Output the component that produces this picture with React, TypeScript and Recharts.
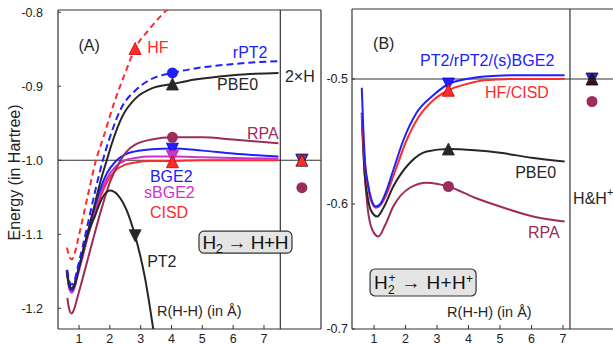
import React from 'react';
import { ComposedChart, Line, Scatter, XAxis, YAxis, ReferenceLine, ReferenceDot } from 'recharts';

const FONT = '"Liberation Sans", Arial, Helvetica, sans-serif';
const RED = '#ff2a2a';
const BLUE = '#2020ff';
const BLACK = '#262626';
const MAROON = '#9b2c5b';
const MAGENTA = '#cc33cc';
const AXIS = '#333333';

// ---------- Panel A : H2 -> H+H  (R in Å, E in Hartree) ----------
const hfA = [[0.61,-1.118],[0.68,-1.13],[0.77,-1.134],[0.85,-1.127],[0.95,-1.11],[1.04,-1.094],[1.3,-1.045],[1.55,-1.0],[1.79,-0.969],[2.15,-0.921],[2.47,-0.885],[2.82,-0.849],[3.26,-0.824],[3.85,-0.797],[4.5,-0.777],[5.5,-0.755],[6.5,-0.742],[7.47,-0.733]];
const rpt2A = [[0.62,-1.148],[0.68,-1.163],[0.76,-1.168],[0.85,-1.163],[0.95,-1.146],[1.1,-1.12],[1.3,-1.083],[1.5,-1.046],[1.74,-1.005],[2.0,-0.969],[2.39,-0.928],[2.82,-0.906],[3.36,-0.89],[4.03,-0.882],[4.76,-0.876],[6.0,-0.87],[7.47,-0.866]];
const pbe0A = [[0.6,-1.148],[0.68,-1.167],[0.76,-1.173],[0.85,-1.168],[0.95,-1.153],[1.1,-1.128],[1.3,-1.095],[1.52,-1.058],[1.7,-1.028],[1.9,-1.0],[2.06,-0.978],[2.39,-0.942],[2.82,-0.917],[3.36,-0.903],[4.03,-0.897],[4.76,-0.891],[6.0,-0.885],[7.47,-0.882]];
const rpaA = [[0.62,-1.186],[0.68,-1.201],[0.76,-1.207],[0.85,-1.2],[0.95,-1.185],[1.09,-1.164],[1.41,-1.114],[1.74,-1.064],[2.0,-1.03],[2.28,-1.005],[2.55,-0.988],[2.82,-0.979],[3.36,-0.972],[4.03,-0.969],[5.0,-0.969],[6.0,-0.972],[7.47,-0.977]];
const bge2A = [[0.62,-1.152],[0.68,-1.17],[0.76,-1.176],[0.85,-1.17],[0.95,-1.153],[1.1,-1.128],[1.3,-1.095],[1.6,-1.05],[1.9,-1.018],[2.2,-1.001],[2.5,-0.992],[2.82,-0.988],[3.36,-0.985],[4.03,-0.984],[5.0,-0.987],[6.0,-0.991],[7.47,-0.995]];
const sbge2A = [[0.62,-1.156],[0.68,-1.173],[0.76,-1.179],[0.85,-1.173],[0.95,-1.157],[1.1,-1.133],[1.3,-1.1],[1.6,-1.056],[1.9,-1.025],[2.2,-1.008],[2.5,-1.0],[2.82,-0.997],[3.36,-0.995],[4.03,-0.995],[5.0,-0.996],[6.0,-0.997],[7.47,-0.998]];
const cisdA = [[0.62,-1.153],[0.68,-1.171],[0.76,-1.175],[0.85,-1.17],[0.95,-1.155],[1.1,-1.132],[1.3,-1.101],[1.6,-1.06],[1.9,-1.03],[2.2,-1.013],[2.5,-1.006],[2.82,-1.003],[3.36,-1.001],[4.03,-1.001],[5.0,-1.0],[7.47,-1.0]];
const pt2A = [[0.6,-1.15],[0.68,-1.168],[0.76,-1.173],[0.85,-1.168],[0.95,-1.153],[1.1,-1.128],[1.3,-1.098],[1.52,-1.075],[1.74,-1.052],[2.0,-1.041],[2.28,-1.048],[2.55,-1.068],[2.82,-1.102],[3.14,-1.159],[3.42,-1.231],[3.6,-1.28]];

// markers A
const hfMarkA = [[2.82,-0.849]];
const rpt2MarkA = [[4.03,-0.882]];
const pbe0MarkA = [[4.03,-0.897]];
const rpaMarkA = [[4.03,-0.969]];
const bge2MarkA = [[4.03,-0.985]];
const sbge2MarkA = [[4.03,-0.995]];
const cisdMarkA = [[4.03,-1.002]];
const pt2MarkA = [[2.82,-1.102]];
const limitTriA = [[8.23,-1.0]];
const limitRpaA = [[8.23,-1.037]];

// ---------- Panel B : H2+ -> H+H+ ----------
const pt2B = [[0.61,-0.507],[0.66,-0.54],[0.71,-0.565],[0.8,-0.583],[0.9,-0.595],[1.06,-0.602],[1.2,-0.6],[1.4,-0.589],[1.61,-0.573],[1.93,-0.549],[2.35,-0.527],[2.88,-0.513],[3.36,-0.504],[3.94,-0.5],[4.5,-0.498],[5.5,-0.497],[7.05,-0.497]];
const hfB = [[0.61,-0.527],[0.66,-0.55],[0.71,-0.568],[0.8,-0.585],[0.9,-0.597],[1.06,-0.603],[1.2,-0.601],[1.4,-0.592],[1.68,-0.573],[2.0,-0.551],[2.4,-0.531],[2.88,-0.517],[3.36,-0.509],[3.94,-0.504],[4.5,-0.501],[5.5,-0.5],[7.05,-0.5]];
const pbe0B = [[0.61,-0.53],[0.7,-0.575],[0.8,-0.595],[0.9,-0.605],[1.1,-0.61],[1.3,-0.603],[1.61,-0.586],[2.14,-0.567],[2.67,-0.558],[3.36,-0.556],[4.2,-0.557],[5.0,-0.559],[6.0,-0.563],[7.05,-0.566]];
const rpaB = [[0.61,-0.527],[0.7,-0.575],[0.8,-0.604],[0.95,-0.621],[1.14,-0.626],[1.35,-0.617],[1.61,-0.602],[2.14,-0.587],[2.67,-0.583],[3.36,-0.586],[4.2,-0.595],[5.0,-0.602],[6.05,-0.61],[7.05,-0.614]];

const pt2MarkB = [[3.36,-0.504]];
const hfMarkB = [[3.36,-0.509]];
const pbe0MarkB = [[3.36,-0.556]];
const rpaMarkB = [[3.36,-0.586]];
const limitTriB = [[7.92,-0.5]];
const limitRpaB = [[7.92,-0.518]];

const xTicks = [1, 2, 3, 4, 5, 6, 7];
const yTicksA = [-1.2, -1.1, -1.0, -0.9, -0.8];
const yTicksB = [-0.7, -0.6, -0.5];

const pts = (a: number[][]) => a.map(([r, e]) => ({ r, e }));

// annotation anchors (data coordinates)
const textA = [
  { t: '(A)', r: 0.98, e: -0.845, c: BLACK },
  { t: 'HF', r: 3.21, e: -0.847, c: RED },
  { t: 'rPT2', r: 5.99, e: -0.854, c: BLUE },
  { t: 'PBE0', r: 5.48, e: -0.8976, c: BLACK },
  { t: 'RPA', r: 6.45, e: -0.964, c: MAROON },
  { t: 'BGE2', r: 3.3, e: -1.0224, c: BLUE },
  { t: 'sBGE2', r: 3.11, e: -1.0441, c: MAGENTA },
  { t: 'CISD', r: 3.3, e: -1.0712, c: RED },
  { t: 'PT2', r: 3.21, e: -1.1364, c: BLACK },
  { t: '2×H', r: 7.68, e: -0.8867, c: BLACK },
];
const textB = [
  { t: '(B)', r: 0.97, e: -0.4712, c: BLACK },
  { t: 'PT2/rPT2/(s)BGE2', r: 2.46, e: -0.4848, c: BLUE },
  { t: 'HF/CISD', r: 4.52, e: -0.5104, c: RED },
  { t: 'PBE0', r: 5.48, e: -0.5744, c: BLACK },
  { t: 'RPA', r: 5.89, e: -0.6224, c: MAROON },
];

// triangle markers centred on their bounding box
const TW = 12, TH = 12;
const triUp = (fill: string, stroke: string) => (p: any) => {
  const { cx, cy } = p;
  return <polygon points={`${cx},${cy - TH / 2} ${cx - TW / 2},${cy + TH / 2} ${cx + TW / 2},${cy + TH / 2}`} fill={fill} stroke={stroke} strokeWidth={0.8} />;
};
const triDown = (fill: string, stroke: string) => (p: any) => {
  const { cx, cy } = p;
  return <polygon points={`${cx},${cy + TH / 2} ${cx - TW / 2},${cy - TH / 2} ${cx + TW / 2},${cy - TH / 2}`} fill={fill} stroke={stroke} strokeWidth={0.8} />;
};
const circ = (fill: string) => (p: any) => <circle cx={p.cx} cy={p.cy} r={5.5} fill={fill} />;

const txt = (t: string, c: string, size = 16) => (p: any) => (
  <text x={p.cx} y={p.cy} fill={c} fontSize={size} fontFamily={FONT} dominantBaseline="central">{t}</text>
);

const boxA = (p: any) => (
  <g>
    <rect x={p.cx - 46.5} y={p.cy - 11} width={93} height={22} rx={5} fill="#e4e4e4" stroke={AXIS} strokeWidth={1.2} />
    <text x={p.cx - 43} y={p.cy + 6.5} textLength={86} lengthAdjust="spacing" fontSize={19} fontFamily={FONT} fill="#111">
      H<tspan fontSize={13} dy={4}>2</tspan><tspan dy={-4}> → H+H</tspan>
    </text>
  </g>
);
const boxB = (p: any) => (
  <g>
    <rect x={p.cx - 53} y={p.cy - 13.5} width={106} height={27} rx={5} fill="#e4e4e4" stroke={AXIS} strokeWidth={1.2} />
    <text x={p.cx - 49} y={p.cy + 6.5} textLength={99} lengthAdjust="spacing" fontSize={19} fontFamily={FONT} fill="#111">
      H<tspan fontSize={12} dy={5}>2</tspan><tspan fontSize={12} dx={-6.5} dy={-12}>+</tspan><tspan dy={7}> → H+H</tspan><tspan fontSize={12} dy={-6}>+</tspan>
    </text>
  </g>
);
const limitText = (p: any) => (
  <text x={p.cx} y={p.cy} fontSize={16} fontFamily={FONT} fill={BLACK} dominantBaseline="central">
    H&amp;H<tspan fontSize={11} dy={-6}>+</tspan>
  </text>
);

const yLabel = (props: any) => {
  const vb = props.viewBox || { y: 10, height: 319 };
  const cy = vb.y + vb.height / 2 + 3;
  return (
    <text x={14} y={cy} transform={`rotate(-90 14 ${cy})`} textAnchor="middle" dominantBaseline="central" fontSize={16} fontFamily={FONT} fill="#222">
      Energy (in Hartree)
    </text>
  );
};

const tickStyle = { fontSize: 12.5, fill: '#222', fontFamily: FONT };
const ln = (data: number[][], color: string, dash?: string, key?: string) => (
  <Line key={key} data={pts(data)} dataKey="e" type="monotone" stroke={color} strokeWidth={2} strokeDasharray={dash} dot={false} activeDot={false} isAnimationActive={false} />
);
const sc = (data: number[][], shape: any, key?: string) => (
  <Scatter key={key} data={pts(data)} shape={shape} isAnimationActive={false} />
);

export default function App() {
  const A_X: [number, number] = [0.318, 8.85];
  const A_Y: [number, number] = [-1.228, -0.797];
  const B_X: [number, number] = [0.3, 8.65];
  const B_Y: [number, number] = [-0.7, -0.444];
  return (
    <div style={{ position: 'absolute', left: 0, top: 0, width: 613, height: 345, overflow: 'hidden', background: '#fff', fontFamily: FONT }}>
      <div style={{ position: 'absolute', left: 0, top: 0 }}>
        <ComposedChart width={330} height={345} margin={{ top: 10, right: 9, bottom: 0, left: 0 }}>
          <XAxis dataKey="r" type="number" domain={A_X} ticks={xTicks} allowDataOverflow height={16} tick={tickStyle} tickSize={-4} tickMargin={9} axisLine={{ stroke: AXIS, strokeWidth: 1.2 }} tickLine={{ stroke: AXIS }} />
          <YAxis dataKey="e" type="number" domain={A_Y} ticks={yTicksA} allowDataOverflow width={58} tick={tickStyle} tickSize={-3} tickMargin={18} tickFormatter={(v: number) => v.toFixed(1)} axisLine={{ stroke: AXIS, strokeWidth: 1.2 }} tickLine={{ stroke: AXIS }} label={yLabel} />
          <ReferenceLine y={-0.797} stroke={AXIS} strokeWidth={1.2} />
          <ReferenceLine x={8.85} stroke={AXIS} strokeWidth={1.2} />
          <ReferenceLine x={7.53} stroke={AXIS} strokeWidth={1.2} />
          <ReferenceLine y={-1.0} stroke={AXIS} strokeWidth={1.2} />
          {ln(hfA, RED, '6 4', 'hf')}
          {ln(cisdA, RED, undefined, 'cisd')}
          {ln(sbge2A, MAGENTA, undefined, 'sbge2')}
          {ln(bge2A, BLUE, undefined, 'bge2')}
          {ln(rpaA, MAROON, undefined, 'rpa')}
          {ln(pt2A, BLACK, undefined, 'pt2')}
          {ln(pbe0A, BLACK, undefined, 'pbe0')}
          {ln(rpt2A, BLUE, '7 4', 'rpt2')}
          {sc(hfMarkA, triUp(RED, '#c00'), 'm1')}
          {sc(rpt2MarkA, circ(BLUE), 'm2')}
          {sc(pbe0MarkA, triUp(BLACK, BLACK), 'm3')}
          {sc(rpaMarkA, circ(MAROON), 'm4')}
          {sc(bge2MarkA, triDown(BLUE, '#00c'), 'm5')}
          {sc(sbge2MarkA, triDown(MAGENTA, '#a2a'), 'm6')}
          {sc(cisdMarkA, triUp(RED, '#c00'), 'm7')}
          {sc(pt2MarkA, triDown(BLACK, BLACK), 'm8')}
          {sc(limitTriA, triDown(BLUE, '#223'), 'l1')}
          {sc(limitTriA, triDown('#8822aa', '#223'), 'l2')}
          {sc(limitTriA, triUp(RED, '#222'), 'l3')}
          {sc(limitRpaA, circ(MAROON), 'l4')}
          {textA.map((a) => (
            <ReferenceDot key={a.t} x={a.r} y={a.e} r={0} ifOverflow="visible" shape={txt(a.t, a.c)} />
          ))}
          <ReferenceDot x={3.53} y={-1.2042} r={0} ifOverflow="visible" shape={txt('R(H-H) (in Å)', BLACK, 14.5)} />
          <ReferenceDot x={6.4} y={-1.1106} r={0} ifOverflow="visible" shape={boxA} />
        </ComposedChart>
      </div>
      <div style={{ position: 'absolute', left: 300, top: 0 }}>
        <ComposedChart width={316} height={345} margin={{ top: 9, right: 1, bottom: 0, left: 0 }}>
          <XAxis dataKey="r" type="number" domain={B_X} ticks={xTicks} allowDataOverflow height={16} tick={tickStyle} tickSize={-4} tickMargin={9} axisLine={{ stroke: AXIS, strokeWidth: 1.2 }} tickLine={{ stroke: AXIS }} />
          <YAxis dataKey="e" type="number" domain={B_Y} ticks={yTicksB} allowDataOverflow width={52} tick={tickStyle} tickSize={-3} tickMargin={7} tickFormatter={(v: number) => v.toFixed(1)} axisLine={{ stroke: AXIS, strokeWidth: 1.2 }} tickLine={{ stroke: AXIS }} />
          <ReferenceLine y={-0.444} stroke={AXIS} strokeWidth={1.2} />
          <ReferenceLine x={7.22} stroke={AXIS} strokeWidth={1.2} />
          <ReferenceLine y={-0.5} stroke={AXIS} strokeWidth={1.2} />
          {ln(rpaB, MAROON, undefined, 'rpa')}
          {ln(pbe0B, BLACK, undefined, 'pbe0')}
          {ln(hfB, RED, undefined, 'hf')}
          {ln(pt2B, BLUE, undefined, 'pt2')}
          {sc(pt2MarkB, triDown(BLUE, '#00c'), 'm1')}
          {sc(hfMarkB, triUp(RED, '#c00'), 'm2')}
          {sc(pbe0MarkB, triUp(BLACK, BLACK), 'm3')}
          {sc(rpaMarkB, circ(MAROON), 'm4')}
          {sc(limitTriB, triDown(BLUE, '#112'), 'l1')}
          {sc(limitTriB, triUp('#3a1010', '#111'), 'l2')}
          {sc(limitRpaB, circ(MAROON), 'l3')}
          {textB.map((a) => (
            <ReferenceDot key={a.t} x={a.r} y={a.e} r={0} ifOverflow="visible" shape={txt(a.t, a.c)} />
          ))}
          <ReferenceDot x={7.32} y={-0.5952} r={0} ifOverflow="visible" shape={limitText} />
          <ReferenceDot x={3.32} y={-0.6864} r={0} ifOverflow="visible" shape={txt('R(H-H) (in Å)', BLACK, 14.5)} />
          <ReferenceDot x={2.556} y={-0.6628} r={0} ifOverflow="visible" shape={boxB} />
        </ComposedChart>
      </div>
    </div>
  );
}
